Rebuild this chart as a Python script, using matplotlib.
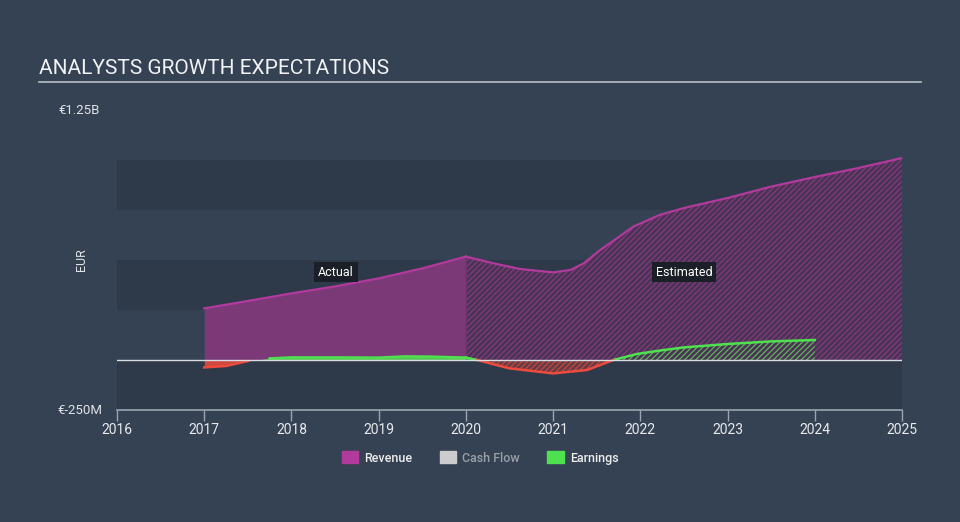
import numpy as np
import matplotlib
matplotlib.use("Agg")
import matplotlib.pyplot as plt
from matplotlib.patches import Patch

plt.rcParams['font.family'] = ['Roboto', 'DejaVu Sans']
plt.rcParams['hatch.linewidth'] = 0.8

# values in billions EUR
rev_actual_x = [2017, 2017.5, 2018, 2018.5, 2019, 2019.5, 2020]
rev_actual_y = [0.258, 0.295, 0.333, 0.368, 0.408, 0.458, 0.517]

rev_est_x = [2020, 2020.32, 2020.62, 2021, 2021.2, 2021.35, 2021.54, 2021.73,
             2021.92, 2022.22, 2022.5, 2023, 2023.5, 2024, 2024.5, 2025]
rev_est_y = [0.517, 0.483, 0.455, 0.438, 0.45, 0.483, 0.55, 0.608,
             0.667, 0.725, 0.76, 0.81, 0.867, 0.915, 0.96, 1.01]

earn_actual_x = [2017, 2017.25, 2017.5, 2017.75, 2018, 2018.5, 2019, 2019.3,
                 2019.6, 2020]
earn_actual_y = [-0.037, -0.03, -0.005, 0.008, 0.013, 0.013, 0.012, 0.018,
                 0.017, 0.012]

earn_est_x = [2020, 2020.13, 2020.5, 2021, 2021.39, 2021.69, 2021.96, 2022.22,
              2022.5, 2023, 2023.5, 2024]
earn_est_y = [0.012, 0.0, -0.042, -0.067, -0.05, 0.0, 0.03, 0.047,
              0.063, 0.08, 0.093, 0.1]

years = [2016, 2017, 2018, 2019, 2020, 2021, 2022, 2023, 2024, 2025]

BG = "#344253"
BAND = "#2e3a4a"
MAGENTA = "#b23a9c"
GREEN = "#4fe04f"
RED = "#ee4b3f"

fig = plt.figure(figsize=(9.6, 5.22), dpi=100, facecolor=BG)
ax = fig.add_axes([117 / 960, 112 / 522, 785 / 960, 300 / 522])
ax.set_facecolor(BG)

ax.set_xlim(2016, 2025)
ax.set_ylim(-0.25, 1.25)

# alternating background bands
for lo, hi in [(-0.25, 0.0), (0.25, 0.5), (0.75, 1.0)]:
    ax.axhspan(lo, hi, color=BAND, lw=0, zorder=0)

# revenue
ax.fill_between(rev_actual_x, 0, rev_actual_y, color="#7b3977", lw=0, zorder=1)
ax.fill_between(rev_est_x, 0, rev_est_y, facecolor="#4a3455", edgecolor="#8a3a82",
                hatch="//////", lw=0, zorder=1)
ax.plot(rev_actual_x, rev_actual_y, color=MAGENTA, lw=1.6, zorder=3)
ax.plot(rev_est_x, rev_est_y, color=MAGENTA, lw=1.6, zorder=3)
ax.plot([2020, 2020], [0, rev_actual_y[-1]], color="#6a3466", lw=0.8, zorder=2)


def split_signs(x, y):
    x = np.array(x)
    y = np.array(y)
    return x, y, np.ma.masked_where(y < 0, y), np.ma.masked_where(y > 0, y)


# earnings, actual
ea_x, ea_y, ea_pos, ea_neg = split_signs(earn_actual_x, earn_actual_y)
ax.fill_between(ea_x, 0, ea_y, where=ea_y >= 0, interpolate=True, color=GREEN,
                alpha=0.85, lw=0, zorder=4)
ax.fill_between(ea_x, 0, ea_y, where=ea_y <= 0, interpolate=True, color=RED,
                alpha=0.85, lw=0, zorder=4)
ax.plot(ea_x, ea_pos, color=GREEN, lw=1.8, zorder=5)
ax.plot(ea_x, ea_neg, color=RED, lw=1.8, zorder=5)

# earnings, estimated
ee_x, ee_y, ee_pos, ee_neg = split_signs(earn_est_x, earn_est_y)
ax.fill_between(ee_x, 0, ee_y, where=ee_y >= 0, interpolate=True, facecolor="none",
                edgecolor="#4fc04f", hatch="//////", lw=0, zorder=4)
ax.fill_between(ee_x, 0, ee_y, where=ee_y <= 0, interpolate=True,
                facecolor=(0.55, 0.25, 0.25, 0.6),
                edgecolor="#d0473e", hatch="//////", lw=0, zorder=4)
ax.plot(ee_x, ee_pos, color=GREEN, lw=1.8, zorder=5)
ax.plot(ee_x, ee_neg, color=RED, lw=1.8, zorder=5)

# zero line
ax.axhline(0, color="#d8dde3", lw=1, zorder=6)

# labels
ax.text(2018.51, 0.44, "Actual", color="white", fontsize=9, ha="center", va="center",
        zorder=7, bbox=dict(boxstyle="square,pad=0.3", fc="#1b1f27", ec="none"))
ax.text(2022.5, 0.44, "Estimated", color="white", fontsize=9, ha="center", va="center",
        zorder=7, bbox=dict(boxstyle="square,pad=0.3", fc="#1b1f27", ec="none"))

# axes styling
for s in ["top", "right", "left"]:
    ax.spines[s].set_visible(False)
ax.spines["bottom"].set_color("#9aa5b1")
ax.spines["bottom"].set_linewidth(1.2)
ax.set_xticks(years)
ax.set_xticklabels([str(y) for y in years])
ax.tick_params(axis="x", colors="#9aa5b1", labelcolor="#e8eaed", labelsize=10,
               length=8, width=1, pad=1)
ax.set_yticks([])

fig.text(58 / 960, 1 - 110 / 522, "€1.25B", color="#e0e3e7", fontsize=9.5,
         ha="left", va="center")
fig.text(57 / 960, 1 - 410 / 522, "€-250M", color="#e0e3e7", fontsize=9.5,
         ha="left", va="center")
fig.text(82 / 960, 1 - 260 / 522, "EUR", color="#e0e3e7", fontsize=9,
         rotation=90, ha="center", va="center")

# title
fig.text(39 / 960, 1 - 68 / 522, "ANALYSTS GROWTH EXPECTATIONS", color="#f0f2f4",
         fontsize=15, ha="left", va="center")
fig.add_artist(plt.Line2D([39 / 960, 921 / 960], [1 - 82 / 522, 1 - 82 / 522],
                          color="#b8bec6", lw=1.2))

# legend
handles = [Patch(color="#b23a9c"), Patch(color="#cccccc"), Patch(color="#4fe04f")]
leg = fig.legend(handles, ["Revenue", "Cash Flow", "Earnings"], loc="center",
                 bbox_to_anchor=(0.5, 1 - 458 / 522), ncol=3, frameon=False,
                 fontsize=9, handlelength=1.3, handleheight=1.1,
                 columnspacing=2.2, handletextpad=0.5,
                 prop={'weight': 'medium', 'size': 9})
for t, c in zip(leg.get_texts(), ["#eeeeee", "#9aa0a8", "#eeeeee"]):
    t.set_color(c)

fig.savefig("out.png", dpi=100, facecolor=BG)
